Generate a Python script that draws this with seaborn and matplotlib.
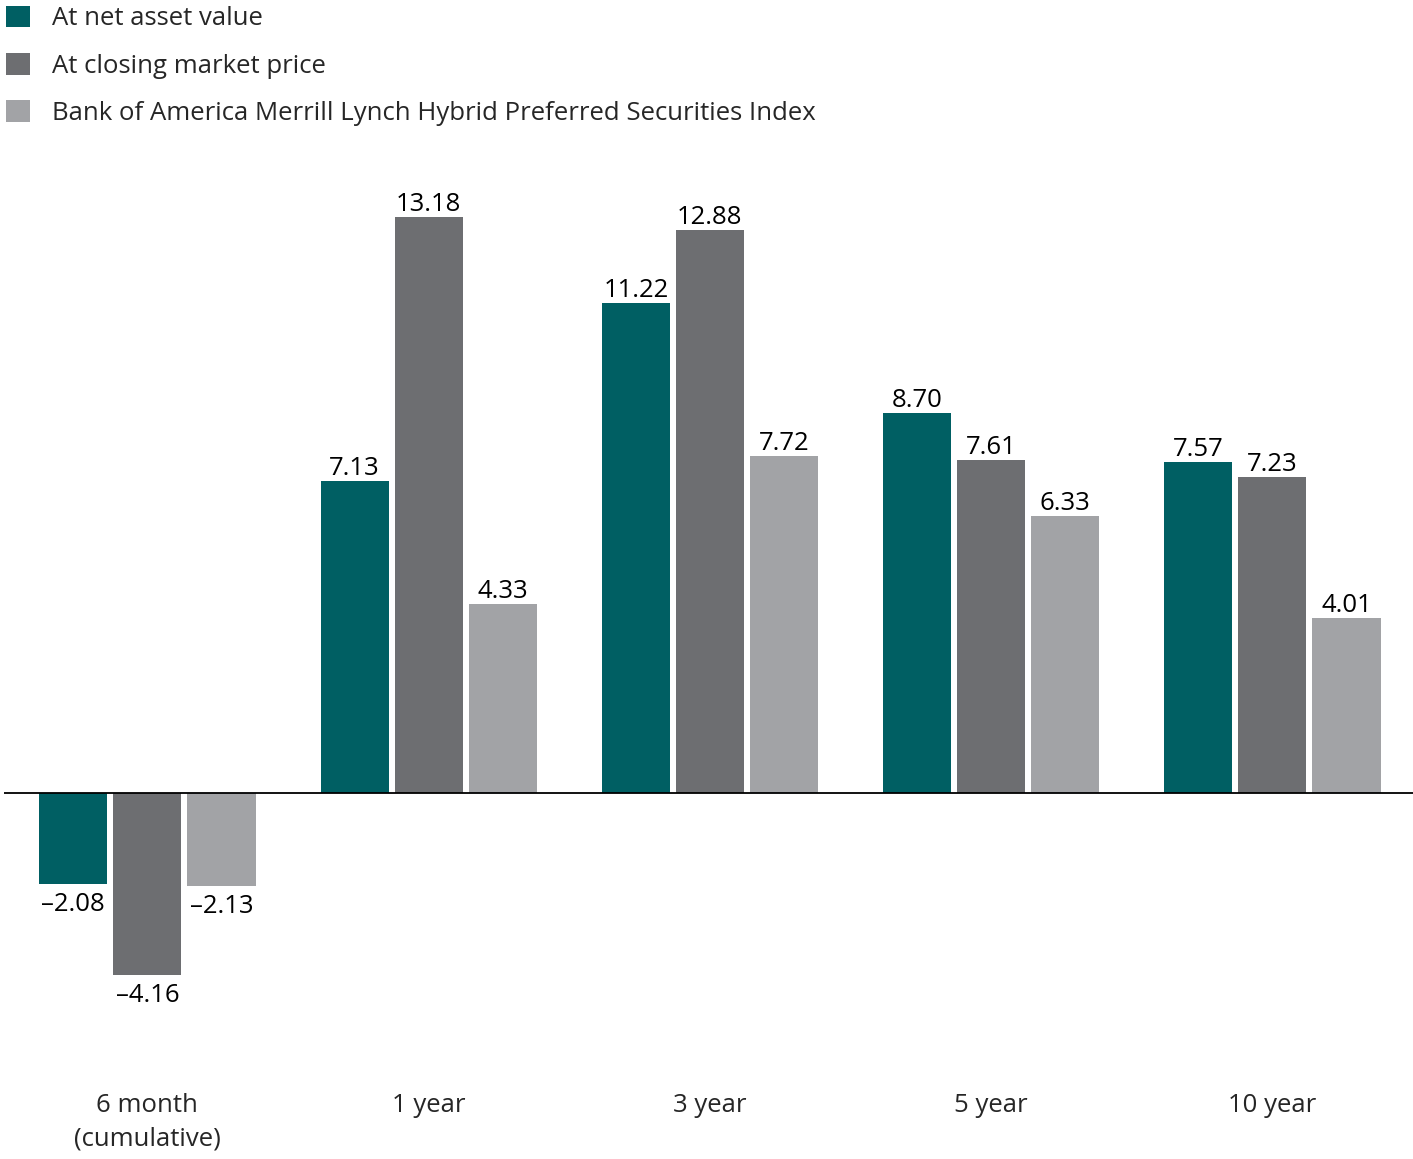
import matplotlib
matplotlib.use("Agg")
import matplotlib.pyplot as plt
from matplotlib.patches import Patch
import seaborn as sns
import pandas as pd
from matplotlib import font_manager

# ---- data ----
periods = ["6 month\n(cumulative)", "1 year", "3 year", "5 year", "10 year"]
series_names = ["At net asset value", "At closing market price",
                "Bank of America Merrill Lynch Hybrid Preferred Securities Index"]
nav_values = [-2.08, 7.13, 11.22, 8.70, 7.57]
market_values = [-4.16, 13.18, 12.88, 7.61, 7.23]
index_values = [-2.13, 4.33, 7.72, 6.33, 4.01]
colors = ["#005F63", "#6D6E71", "#A2A3A6"]

rows = []
for name, vals in zip(series_names, [nav_values, market_values, index_values]):
    for p, v in zip(periods, vals):
        rows.append({"period": p, "series": name, "value": v})
df = pd.DataFrame(rows)

sns.set_theme(style="white")
avail = {f.name for f in font_manager.fontManager.ttflist}
fam = [f for f in ["Open Sans", "DejaVu Sans"] if f in avail]
plt.rcParams["font.family"] = fam

FS = 18.5
W, H = 1413, 1159
fig = plt.figure(figsize=(W / 100, H / 100), dpi=100)
ax = fig.add_axes([4 / W, (H - 1060) / H, (W - 4) / W, 910 / H])

sns.barplot(data=df, x="period", y="value", hue="series", order=periods,
            hue_order=series_names, palette=colors, width=0.79, gap=0.08,
            saturation=1, ax=ax, legend=False, edgecolor="none")

ax.set_xlim(-0.51, 4.5)
ax.set_ylim(-6.11, 14.71)
ax.axhline(0, color="black", lw=1.3, zorder=5)

for cont in ax.containers:
    pos_labels, neg_labels = [], []
    for bar in cont:
        v = bar.get_height()
        if v < 0:
            neg_labels.append("\u2013%.2f" % abs(v))
            pos_labels.append("")
        else:
            pos_labels.append("%.2f" % v)
            neg_labels.append("")
    ax.bar_label(cont, labels=pos_labels, padding=0, fontsize=FS, color="black")
    ax.bar_label(cont, labels=neg_labels, padding=6, fontsize=FS, color="black")

for s in ax.spines.values():
    s.set_visible(False)
ax.set_yticks([])
ax.set_xlabel("")
ax.set_ylabel("")
ax.set_xticks(range(len(periods)))
ax.set_xticklabels(periods, linespacing=1.45, va="top")
ax.tick_params(axis="x", length=0, pad=24, labelsize=FS)

handles = [Patch(facecolor=c, edgecolor="none") for c in colors]
fig.legend(handles, series_names, loc="upper left",
           bbox_to_anchor=(-0.003, 1.004), frameon=False, fontsize=FS,
           handlelength=0.93, handleheight=0.93, handletextpad=0.85,
           labelspacing=0.84, borderaxespad=0)

fig.savefig("out.png", dpi=100)
